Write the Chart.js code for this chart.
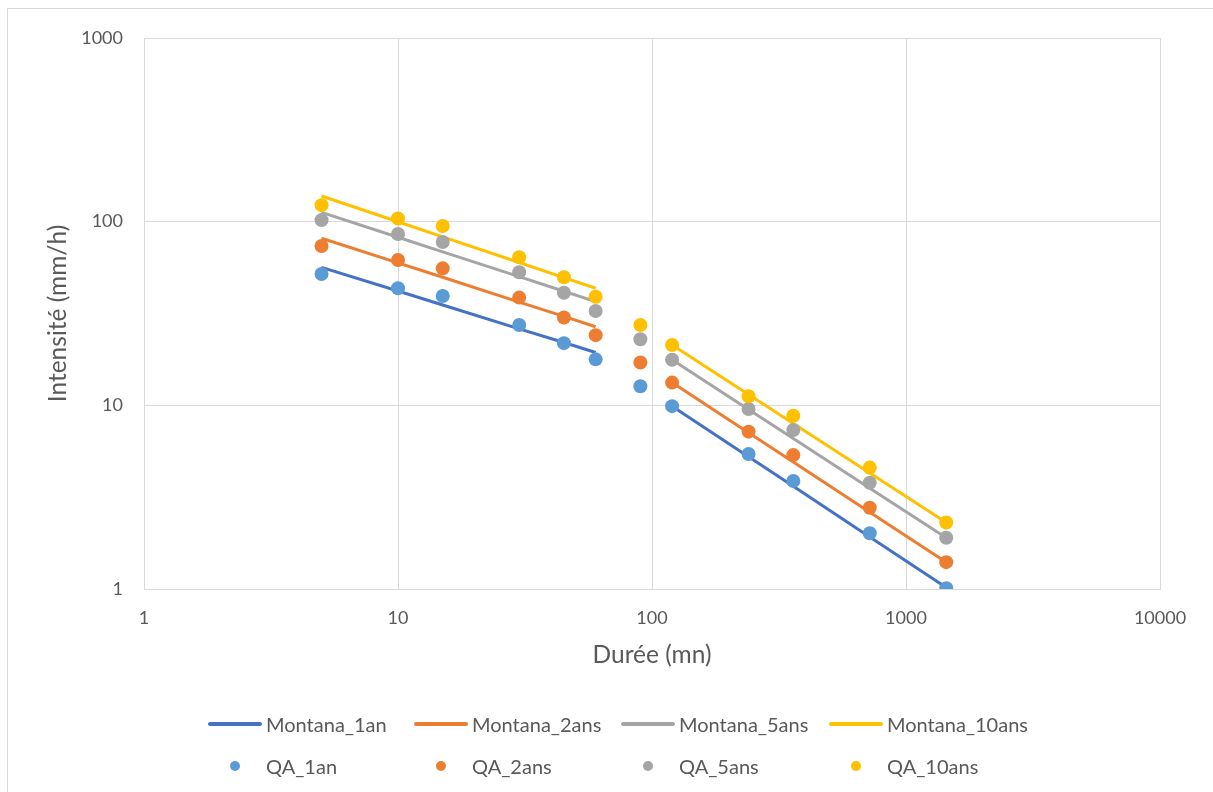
<!DOCTYPE html>
<html>
<head>
<meta charset="utf-8">
<script src="https://cdn.jsdelivr.net/npm/chart.js@4.4.1/dist/chart.umd.min.js"></script>
<style>
  html, body { margin: 0; padding: 0; background: #fff; }
  #wrap { position: relative; width: 1213px; height: 792px; overflow: hidden; font-family: Lato, 'Open Sans', sans-serif; }
  #frame { position: absolute; left: 7px; top: 8px; width: 1220px; height: 800px; border: 1px solid #D9D9D9; box-sizing: border-box; }
  #chart { position: absolute; left: 0; top: 0; }
  .leg { position: absolute; display: flex; align-items: center; height: 24px; margin-top: -12px; color: #595959; font-size: 20px; white-space: nowrap; }
  .mk { width: 54px; height: 24px; position: relative; margin-right: 4px; }
  .mk .ln { position: absolute; left: 0; right: 0; top: 10px; height: 4px; border-radius: 2px; }
  .mk .dt { position: absolute; left: 22px; top: 7px; width: 10px; height: 10px; border-radius: 50%; }
</style>
</head>
<body>
<div id="wrap">
  <div id="frame"></div>
  <canvas id="chart" width="1213" height="792"></canvas>
  <div id="legend"></div>
</div>
<script>
// durations (mn)
const durations = [5, 10, 15, 30, 45, 60, 90, 120, 240, 360, 720, 1440];

// observed intensities (mm/h)
const qa1an   = [51.9, 43.4, 39.4, 27.4, 21.8, 17.8, 12.7, 9.9, 5.43, 3.87, 2.01, 1.01];
const qa2ans  = [73.7, 61.8, 55.7, 38.6, 30.1, 24.1, 17.1, 13.3, 7.19, 5.36, 2.77, 1.40];
const qa5ans  = [102, 85.7, 77.5, 53.0, 41.0, 32.6, 22.9, 17.7, 9.55, 7.34, 3.79, 1.90];
const qa10ans = [123, 104, 94.7, 64.0, 49.8, 39.0, 27.4, 21.3, 11.2, 8.78, 4.58, 2.30];

// Montana fits (null = break between the two ranges)
const montana1an   = [56.4, 41.9, 35.2, 26.1, 22.0, 19.4, null, 9.9, 5.25, 3.63, 1.92, 1.02];
const montana2ans  = [81.2, 59.6, 49.8, 36.5, 30.5, 26.8, null, 13.3, 7.10, 4.91, 2.62, 1.40];
const montana5ans  = [112.4, 82.3, 68.5, 50.2, 41.8, 36.7, null, 17.7, 9.50, 6.60, 3.54, 1.90];
const montana10ans = [138, 99.9, 82.7, 59.9, 49.6, 43.4, null, 21.3, 11.45, 7.96, 4.28, 2.30];

const xTicks = [1, 10, 100, 1000, 10000];
const yTicks = [1, 10, 100, 1000];

const lineColors = ['#4472C4', '#ED7D31', '#A5A5A5', '#FFC000'];
const dotColors  = ['#5B9BD5', '#ED7D31', '#A5A5A5', '#FFC000'];
const lineNames = ['Montana_1an', 'Montana_2ans', 'Montana_5ans', 'Montana_10ans'];
const dotNames  = ['QA_1an', 'QA_2ans', 'QA_5ans', 'QA_10ans'];

const toPts = arr => durations.map((d, i) => ({ x: d, y: arr[i] }));

const montana = [montana1an, montana2ans, montana5ans, montana10ans];
const qa = [qa1an, qa2ans, qa5ans, qa10ans];

const datasets = [];
montana.forEach((arr, i) => {
  datasets.push({
    label: lineNames[i],
    data: toPts(arr),
    showLine: true,
    spanGaps: false,
    borderColor: lineColors[i],
    backgroundColor: lineColors[i],
    borderWidth: 3,
    pointRadius: 0,
    order: 8 - i,
  });
});
qa.forEach((arr, i) => {
  datasets.push({
    label: dotNames[i],
    data: toPts(arr),
    showLine: false,
    backgroundColor: dotColors[i],
    borderWidth: 0,
    pointRadius: 7,
    order: 4 - i,
  });
});

const font = 'Lato';
const txt = '#595959';
const grid = '#D9D9D9';

new Chart(document.getElementById('chart'), {
  type: 'scatter',
  data: { datasets },
  options: {
    responsive: false,
    animation: false,
    layout: { padding: { left: 0, top: 38, right: 53, bottom: 113 } },
    plugins: { legend: { display: false }, tooltip: { enabled: false } },
    scales: {
      x: {
        type: 'logarithmic',
        min: 1, max: 10000,
        afterBuildTicks: s => { s.ticks = xTicks.map(v => ({ value: v })); },
        afterFit: s => { s.height = 90; s.paddingLeft = 0; s.paddingRight = 0; },
        grid: { color: grid, lineWidth: 1, drawTicks: false },
        border: { color: grid },
        ticks: { color: txt, font: { family: font, size: 18 }, padding: 18, callback: v => String(v), autoSkip: false, maxRotation: 0 },
        title: { display: true, text: 'Durée (mn)', color: txt, font: { family: font, size: 24.5 }, padding: { top: 0, bottom: 9 } },
      },
      y: {
        type: 'logarithmic',
        min: 1, max: 1000,
        afterBuildTicks: s => { s.ticks = yTicks.map(v => ({ value: v })); },
        afterFit: s => { s.width = 144; s.paddingTop = 0; s.paddingBottom = 0; },
        grid: { color: grid, lineWidth: 1, drawTicks: false },
        border: { color: grid },
        ticks: { color: txt, font: { family: font, size: 18 }, padding: 21, callback: v => String(v) },
        title: { display: true, text: 'Intensité (mm/h)', color: txt, font: { family: font, size: 24.5 }, padding: { top: 43, bottom: 0 } },
      },
    },
  },
});

// legend, 4 columns x 2 rows like the original
const legCols = [208, 414, 621, 829];
const legRows = [724, 766];
const legend = document.getElementById('legend');
lineNames.forEach((name, i) => {
  const el = document.createElement('div');
  el.className = 'leg';
  el.style.left = legCols[i] + 'px';
  el.style.top = legRows[0] + 'px';
  el.innerHTML = `<span class="mk"><span class="ln" style="background:${lineColors[i]}"></span></span>${name}`;
  legend.appendChild(el);
});
dotNames.forEach((name, i) => {
  const el = document.createElement('div');
  el.className = 'leg';
  el.style.left = legCols[i] + 'px';
  el.style.top = legRows[1] + 'px';
  el.innerHTML = `<span class="mk"><span class="dt" style="background:${dotColors[i]}"></span></span>${name}`;
  legend.appendChild(el);
});
</script>
</body>
</html>
